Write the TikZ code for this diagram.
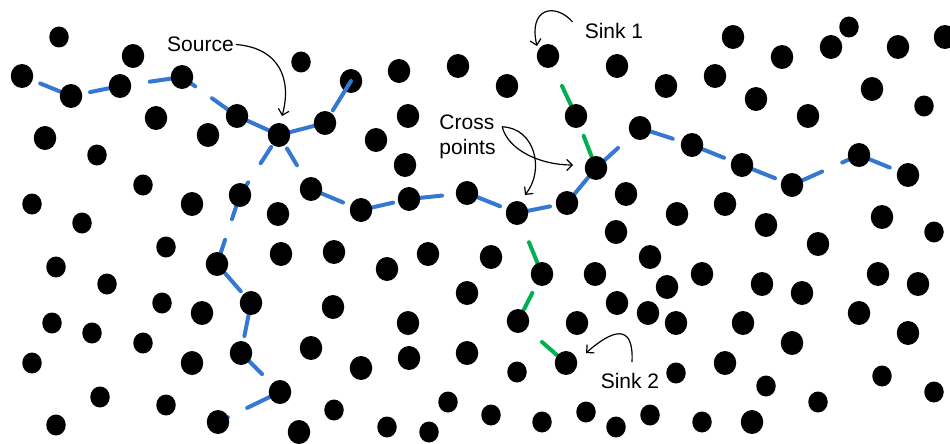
\documentclass[tikz,border=0pt]{standalone}
\usepackage{fontspec}
\setmainfont{Liberation Sans}
\usetikzlibrary{calc,arrows.meta,shapes.geometric}
\pgfdeclarelayer{bgfill}
\pgfdeclarelayer{lines}
\pgfsetlayers{bgfill,lines,main}
\definecolor{pathblue}{RGB}{52,120,210}
\definecolor{pathgreen}{RGB}{0,176,80}
\newcommand\lnk[5][bl]{\draw[#1] ($(#2)!#4!(#3)$) -- ($(#2)!#5!(#3)$);}
\begin{document}
\begin{tikzpicture}[x=1pt,y=-1pt,
  bigdot/.style={ellipse,fill=black,inner sep=0pt,minimum width=22.5pt,minimum height=24pt},
  smalldot/.style={ellipse,fill=black,inner sep=0pt,minimum width=19.5pt,minimum height=21pt},
  bl/.style={draw=pathblue,line width=4pt,line cap=round},
  gr/.style={draw=pathgreen,line width=4pt,line cap=round},
  arr/.style={draw=black,line width=1.2pt,-{Straight Barb[length=5.5pt,width=11pt]}},
  lbl/.style={font=\fontsize{21}{25}\selectfont,inner sep=0pt}]
\begin{pgfonlayer}{bgfill}
\fill[white] (0,0) rectangle (950,444);
\end{pgfonlayer}
\useasboundingbox (0,0) rectangle (950,444);
% dots
\foreach \n/\x/\y in {d2/133/56, d3/22/76, d4/71/96, d5/120/86, d6/182/77, d8/156/118, d9/45/138, d11/208/135, d12/237/116, src/279/135, d14/325/123, d16/192/204, d17/240/195, d18/311/189, d21/278/214, snkA/548/56, d23/617/66, d24/399/71, d25/458/66, d26/507/86, d27/351/81, d28/408/116, d29/376/140, d30/576/116, d31/405/165, crA/596/168, d33/361/210, d34/409/199, d35/467/193, crB/517/213, d37/567/203, d38/626/194, d39/616/232, d40/733/37, d42/782/57, d43/831/47, d44/898/47, d45/945/37, d46/666/86, d47/715/76, d48/756/99, d49/808/116, d50/872/89, d52/640/128, d53/692/145, d54/742/165, d55/792/185, d56/859/155, d57/908/175, d58/677/214, d59/725/204, d60/766/225, d61/882/217, d64/281/254, d65/217/264, d69/202/313, d70/251/303, d74/241/353, d75/192/363, d77/311/348, d78/280/392, d82/218/422, d83/299/432, d84/334/252, d85/428/254, d86/491/257, d87/387/269, d88/542/274, d89/595/274, d90/333/307, d91/467/293, d92/617/303, d93/408/323, d94/518/321, d95/577/323, d96/409/358, d97/467/353, d98/361/368, snkB/566/363, d109/818/244, d110/650/257, d111/702/274, d112/667/287, d113/762/284, d114/802/293, d115/878/274, d116/918/284, d117/648/313, d118/676/323, d119/743/323, d120/859/313, d121/908/333, d122/792/343, d123/725/363, d131/752/422}
  \node[bigdot] (\n) at (\x,\y) {};
\foreach \n/\x/\y in {d1/59/37, d7/301/62, d10/97/155, d15/143/185, d19/32/204, d20/82/223, d41/849/27, d51/924/106, d62/934/232, d63/166/247, d66/56/267, d67/107/284, d68/162/303, d71/52/323, d72/92/333, d73/143/343, d76/32/363, d79/100/397, d80/166/405, d81/56/425, d100/517/372, d101/334/410, d102/448/402, d103/491/415, d104/542/422, d105/586/412, d106/387/427, d107/429/432, d108/616/427, d124/676/373, d125/882/376, d126/766/386, d127/934/392, d128/818/402, d129/650/415, d130/702/422}
  \node[smalldot] (\n) at (\x,\y) {};
% paths (behind dots)
\begin{pgfonlayer}{lines}
\lnk{d3}{d4}{0.37}{1}
\lnk{d4}{d5}{0.39}{1}
\lnk{d5}{d6}{0.48}{1}
\lnk{d6}{d12}{0}{0.24}
\lnk{d6}{d12}{0.545}{1}
\lnk{d12}{src}{0}{1}
\lnk{src}{d14}{0}{1}
\lnk{src}{d17}{0.2}{0.47}
\lnk{src}{d17}{0.79}{1}
\lnk{d17}{d65}{0}{0.35}
\lnk{d17}{d65}{0.65}{1}
\lnk{d65}{d70}{0}{0.7}
\lnk{d70}{d74}{0}{0.66}
\lnk{d74}{d78}{0}{0.54}
\lnk{d78}{d82}{0}{0.53}
\lnk{d78}{d82}{0.84}{1}
\lnk{src}{d18}{0.25}{0.56}
\lnk{d18}{d33}{0}{0.64}
\lnk{d33}{d34}{0}{0.67}
\lnk{d34}{d35}{0}{0.57}
\lnk{d35}{crB}{0}{0.66}
\lnk{crB}{d37}{0}{0.66}
\lnk{d37}{crA}{0}{1}
\lnk{crA}{d52}{0}{0.5}
\lnk{d52}{d53}{0}{0.63}
\lnk{d53}{d54}{0}{0.64}
\lnk{d54}{d55}{0}{0.66}
\lnk{d55}{d56}{0}{0.45}
\lnk{d55}{d56}{0.75}{1}
\lnk{d56}{d57}{0}{0.63}
\lnk[gr]{snkA}{d30}{0.5}{1}
\lnk[gr]{d30}{crA}{0.38}{1}
\lnk[gr]{crB}{d88}{0.48}{1}
\lnk[gr]{d88}{d94}{0.4}{1}
\lnk[gr]{d94}{snkB}{0.5}{1}
\end{pgfonlayer}
\lnk{d14}{d27}{0.3}{1}
% labels
\node[lbl] (srcl) at (200.5,44.5) {Source};
\node[lbl] (snkAl) at (614,31) {Sink 1};
\node[lbl] (snkBl) at (630,381) {Sink 2};
\node[lbl,align=left] (crl) at (467.5,137) {Cross\\points};
% arrows
\draw[arr] ($(srcl.east)+(2,0)$) .. controls (280,48) and (292,80) .. ($(src)+(3,-19)$);
\draw[arr] ($(snkAl.west)+(-12,-9)$) .. controls (555,2) and (528,8) .. ($(snkA)+(-11,-10)$);
\draw[arr] ($(crl.north east)+(6.5,12)$) .. controls (508,150) and (540,165) .. ($(crA)+(-23,-3)$);
\draw[arr] ($(crl.north east)+(6.5,12)$) .. controls (535,128) and (545,170) .. ($(crB)+(8,-18)$);
\draw[arr] ($(snkBl.north)+(2,-11)$) .. controls (634,322) and (612,330) .. ($(snkB)+(20,-10)$);
\end{tikzpicture}
\end{document}
